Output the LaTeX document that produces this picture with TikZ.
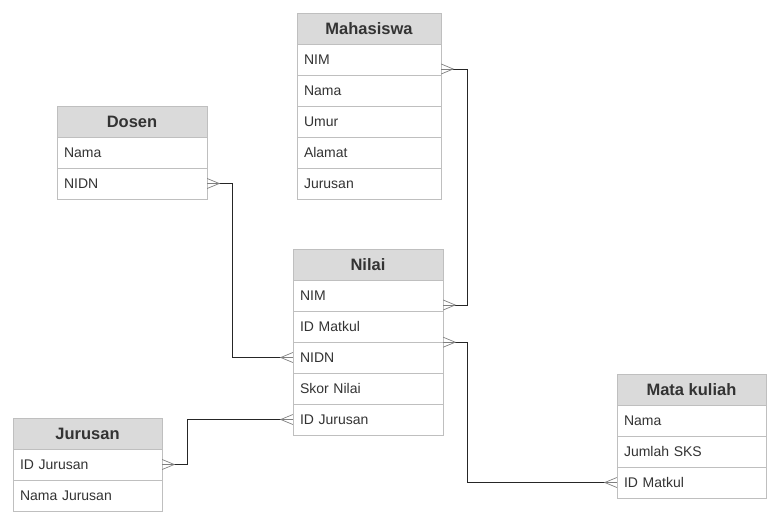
\documentclass[tikz,border=0pt]{standalone}
\usepackage{fontspec}
\setmainfont{Liberation Sans}
\definecolor{tblline}{HTML}{BFBFBF}
\definecolor{headgray}{HTML}{DADADA}
\definecolor{txtgray}{HTML}{333333}
\definecolor{footgray}{HTML}{808080}
\tikzset{
  head/.style={draw=tblline, fill=headgray, minimum width=#1, minimum height=31pt,
    inner sep=0pt, text=txtgray, font=\fontsize{16.5}{18}\selectfont\bfseries,
    text height=12pt, text depth=0pt},
  head/.default=150pt,
  row/.style={draw=tblline, fill=white, text width=#1, minimum height=31pt,
    inner xsep=7pt, inner ysep=0pt, align=left, text=txtgray,
    font=\fontsize{14}{16}\selectfont, text height=10pt, text depth=0pt},
  row/.default=136pt,
  link/.style={draw=black!85, line width=0.8pt},
  foot/.style={draw=footgray, line width=0.7pt}
}
% crow's foot, opening to the right or to the left of a point
\newcommand\footR[1]{\draw[foot] ([yshift=5pt]#1) -- ++(12,-5) -- ++(-12,-5); \draw[foot] (#1) -- ++(12,0);}
\newcommand\footL[1]{\draw[foot] ([yshift=5pt]#1) -- ++(-12,-5) -- ++(12,-5); \draw[foot] (#1) -- ++(-12,0);}
\begin{document}
\begin{tikzpicture}[x=1pt,y=1pt]
\useasboundingbox (0,0) rectangle (779,-524);
% Mahasiswa
\node[head=144pt] (mhs) at (369,-28.5) {Mahasiswa};
\node[row=130pt] (mhs-nim) at (369,-59.5) {NIM};
\node[row=130pt] (mhs-nama) at (369,-90.5) {Nama};
\node[row=130pt] (mhs-umur) at (369,-121.5) {Umur};
\node[row=130pt] (mhs-alamat) at (369,-152.5) {Alamat};
\node[row=130pt] (mhs-jur) at (369,-183.5) {Jurusan};
% Dosen
\node[head] (dos) at (132,-121.5) {Dosen};
\node[row] (dos-nama) at (132,-152.5) {Nama};
\node[row] (dos-nidn) at (132,-183.5) {NIDN};
% Nilai
\node[head] (nil) at (368,-264.5) {Nilai};
\node[row] (nil-nim) at (368,-295.5) {NIM};
\node[row] (nil-idm) at (368,-326.5) {ID Matkul};
\node[row] (nil-nidn) at (368,-357.5) {NIDN};
\node[row] (nil-skor) at (368,-388.5) {Skor Nilai};
\node[row] (nil-idj) at (368,-419.5) {ID Jurusan};
% Jurusan
\node[head=149pt] (jur) at (87.5,-433.5) {Jurusan};
\node[row=135pt] (jur-idj) at (87.5,-464.5) {ID Jurusan};
\node[row=135pt] (jur-nama) at (87.5,-495.5) {Nama Jurusan};
% Mata kuliah
\node[head=149pt] (mk) at (691.5,-389.5) {Mata kuliah};
\node[row=135pt] (mk-nama) at (691.5,-420.5) {Nama};
\node[row=135pt] (mk-sks) at (691.5,-451.5) {Jumlah SKS};
\node[row=135pt] (mk-idm) at (691.5,-482.5) {ID Matkul};
% relations
\coordinate (mhs-end) at ([yshift=-9.5pt]mhs-nim.east);
\coordinate (nil-end) at ([yshift=-9.5pt]nil-nim.east);
\draw[link] (mhs-end) -- ++(26,0) |- (nil-end);
\footR{mhs-end}
\footR{nil-end}
\draw[link] (dos-nidn.east) -- ++(25,0) |- (nil-nidn.west);
\footR{dos-nidn.east}
\footL{nil-nidn.west}
\draw[link] (nil-idm.south east) -- ++(24,0) |- (mk-idm.west);
\footR{nil-idm.south east}
\footL{mk-idm.west}
\draw[link] (jur-idj.east) -- ++(25,0) |- (nil-idj.west);
\footR{jur-idj.east}
\footL{nil-idj.west}
\end{tikzpicture}
\end{document}
